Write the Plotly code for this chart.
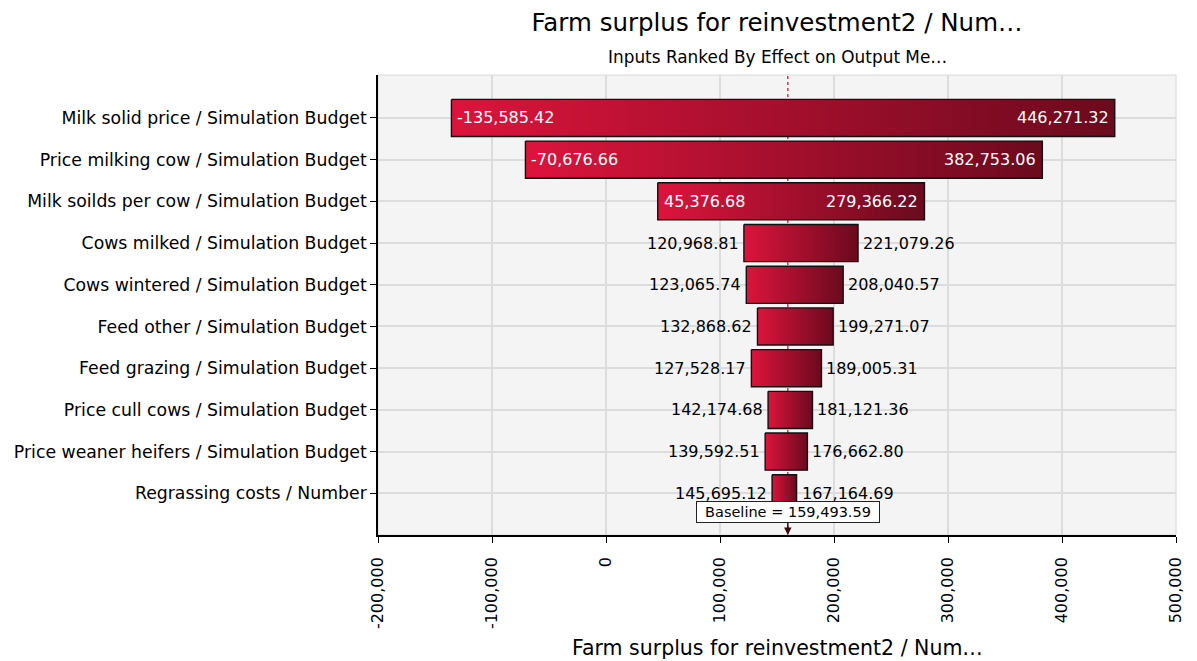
import plotly.graph_objects as go

categories = [
    "Milk solid price / Simulation Budget",
    "Price milking cow / Simulation Budget",
    "Milk soilds per cow / Simulation Budget",
    "Cows milked / Simulation Budget",
    "Cows wintered / Simulation Budget",
    "Feed other / Simulation Budget",
    "Feed grazing / Simulation Budget",
    "Price cull cows / Simulation Budget",
    "Price weaner heifers / Simulation Budget",
    "Regrassing costs / Number",
]
low_values = [-135585.42, -70676.66, 45376.68, 120968.81, 123065.74,
              132868.62, 127528.17, 142174.68, 139592.51, 145695.12]
high_values = [446271.32, 382753.06, 279366.22, 221079.26, 208040.57,
               199271.07, 189005.31, 181121.36, 176662.80, 167164.69]
baseline = 159493.59
inside_label_rows = 3
x_ticks = [-200000, -100000, 0, 100000, 200000, 300000, 400000, 500000]
x_tick_text = [f"{v:,}" for v in x_ticks]

title_text = "Farm surplus for reinvestment2 / Num…"
subtitle_text = "Inputs Ranked By Effect on Output Me…"
x_title_text = "Farm surplus for reinvestment2 / Num…"

FONT = "DejaVu Sans"
HALF = 0.445
fig = go.Figure()

for i, (lo, hi) in enumerate(zip(low_values, high_values)):
    fig.add_trace(go.Scatter(
        x=[lo, hi, hi, lo, lo],
        y=[i - HALF, i - HALF, i + HALF, i + HALF, i - HALF],
        mode="lines", fill="toself",
        fillgradient=dict(type="horizontal",
                          colorscale=[[0, "#DC143C"], [1, "#6B0A1E"]]),
        line=dict(color="#111111", width=1.4),
        hoverinfo="skip", showlegend=False,
    ))

def fmt(v):
    return f"{v:,.2f}"

for i, (lo, hi) in enumerate(zip(low_values, high_values)):
    inside = i < inside_label_rows
    col = "white" if inside else "black"
    fig.add_annotation(x=lo, y=i, xref="x", yref="y", text=fmt(lo), showarrow=False,
                       xanchor="left" if inside else "right", xshift=4 if inside else -3,
                       font=dict(family=FONT, size=16, color=col))
    fig.add_annotation(x=hi, y=i, xref="x", yref="y", text=fmt(hi), showarrow=False,
                       xanchor="right" if inside else "left", xshift=-4 if inside else 3,
                       font=dict(family=FONT, size=16, color=col))

fig.add_shape(type="line", xref="x", yref="paper", x0=baseline, x1=baseline,
              y0=0, y1=1, line=dict(color="#DC143C", width=1.3, dash="dot"), layer="below")
fig.add_shape(type="rect", xref="paper", yref="paper", x0=0, x1=1, y0=0, y1=1,
              line=dict(color="#d8d8d8", width=1), layer="below")

fig.add_annotation(x=baseline, xref="x", y=0, yref="paper",
                   text=f"Baseline = {fmt(baseline)}", showarrow=True,
                   ax=0, ay=-23, arrowhead=2, arrowsize=1, arrowwidth=1.5, arrowcolor="#3a0a12",
                   bgcolor="white", bordercolor="#222", borderwidth=1, borderpad=1,
                   width=180, height=18,
                   font=dict(family=FONT, size=14.5, color="black"))

fig.add_annotation(x=0.5, xref="paper", y=1 + 18 / 460, yref="paper", yanchor="middle",
                   text=subtitle_text, showarrow=False,
                   font=dict(family=FONT, size=16.9, color="black"))
fig.add_annotation(x=0.5, xref="paper", y=-(648 - 535) / 460, yref="paper", yanchor="middle",
                   text=x_title_text, showarrow=False,
                   font=dict(family=FONT, size=20.5, color="black"))

fig.update_layout(
    width=1197, height=661,
    margin=dict(l=378, r=15, t=75, b=126),
    paper_bgcolor="white", plot_bgcolor="#f4f4f4",
    font=dict(family=FONT, color="black"),
    title=dict(text=title_text, x=0.5, xref="paper", xanchor="center",
               yref="container", y=1 - 22 / 661, yanchor="middle",
               font=dict(family=FONT, size=24.5, color="black")),
    xaxis=dict(range=[-200000, 500000], tickvals=x_ticks, ticktext=x_tick_text,
               tickangle=-90, ticks="outside", ticklen=6, tickcolor="black",
               ticklabelstandoff=8, ticklabeloverflow="allow",
               showline=True, linecolor="black", linewidth=1.5,
               gridcolor="#dcdcdc", gridwidth=1.5, zeroline=False,
               tickfont=dict(family=FONT, size=16)),
    yaxis=dict(range=[10, -1.03], tickvals=list(range(len(categories))), ticktext=categories,
               ticks="outside", ticklen=6, tickcolor="black",
               showline=True, linecolor="black", linewidth=1.5,
               gridcolor="#dcdcdc", gridwidth=1.5, zeroline=False,
               tickfont=dict(family=FONT, size=17.3)),
)

fig.write_html("out.html", config={"displayModeBar": False},
               post_script="document.body.style.margin='0';")
